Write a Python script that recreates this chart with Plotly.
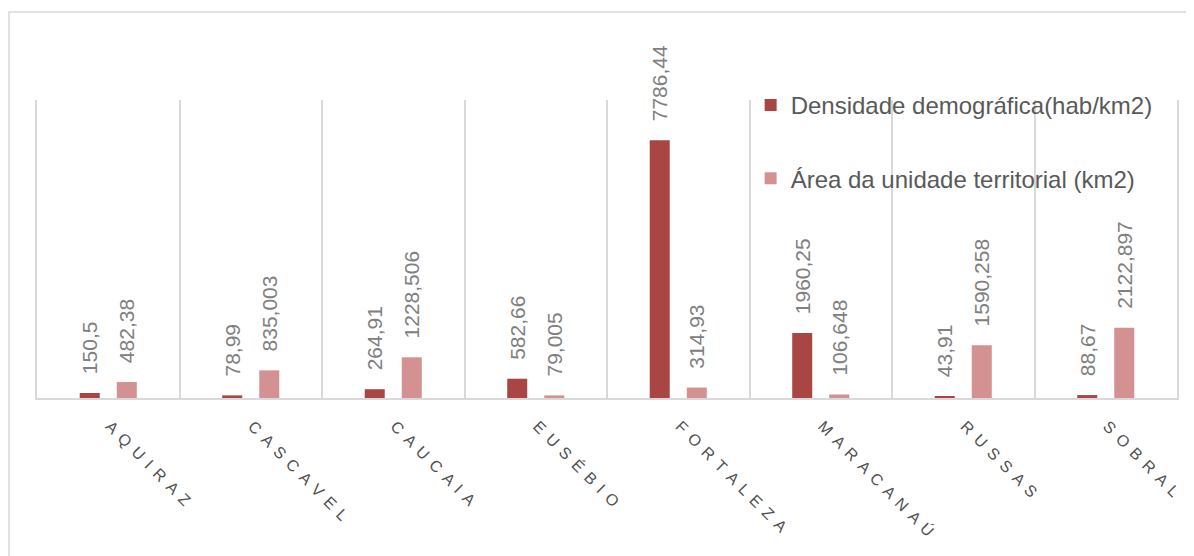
import plotly.graph_objects as go

categories = ["AQUIRAZ", "CASCAVEL", "CAUCAIA", "EUSÉBIO", "FORTALEZA", "MARACANAÚ", "RUSSAS", "SOBRAL"]
densidade = [150.5, 78.99, 264.91, 582.66, 7786.44, 1960.25, 43.91, 88.67]
area = [482.38, 835.003, 1228.506, 79.005, 314.93, 106.648, 1590.258, 2122.897]
series_names = ["Densidade demográfica(hab/km2)", "Área da unidade territorial (km2)"]
colors = ["#A94543", "#D39191"]

def fmt(v):
    # leading spaces give the gap above the bar (text reads bottom-to-top)
    return "\u00a0\u00a0\u2009" + str(v).replace(".", ",")

def spaced(s):
    # emulate the wide letter spacing of the category labels
    return " \u2006".join(list(s))

W, H = 1186, 548
L, R, T, B = 29, 17, 92, 158
pw, ph = W - L - R, H - T - B

fig = go.Figure()
for i, (name, vals) in enumerate(zip(series_names, [densidade, area])):
    fig.add_trace(go.Bar(
        x=categories, y=vals, name=name,
        marker=dict(color=colors[i], line=dict(width=0)),
        text=[fmt(v) for v in vals],
        textposition="outside", textangle=-90,
        textfont=dict(family="Liberation Sans", size=21, color="#808080"),
        constraintext="none", cliponaxis=False,
        legendgroup=f"g{i}", hoverinfo="skip",
    ))

fig.update_layout(
    width=W, height=H,
    margin=dict(l=L, r=R, t=T, b=B),
    paper_bgcolor="white", plot_bgcolor="white",
    barmode="group", bargap=0.48, bargroupgap=0.46,
    font=dict(family="Liberation Sans", color="#595959"),
    showlegend=True,
    legend=dict(
        x=0.626, y=(ph + 17) / ph, xanchor="left", yanchor="top",
        bgcolor="rgba(0,0,0,0)", borderwidth=0,
        font=dict(family="Liberation Sans", size=24, color="#595959"),
        tracegroupgap=39,
    ),
    xaxis=dict(
        tickmode="array", tickvals=categories, ticktext=[spaced(c) for c in categories],
        tickangle=45, tickson="boundaries", ticks="",
        showgrid=True, gridcolor="#d9d9d9", gridwidth=1.5,
        showline=True, linecolor="#d9d9d9", linewidth=1.5,
        tickfont=dict(family="Liberation Sans", size=16, color="#505050"),
        ticklabelshift=2, ticklabelstandoff=11,
        fixedrange=True,
    ),
    yaxis=dict(
        range=[0, 9000], showgrid=False, showticklabels=False, zeroline=False,
        showline=True, mirror=True, linecolor="#d9d9d9", linewidth=1.5,
        ticks="", fixedrange=True,
    ),
    shapes=[dict(
        type="rect", xref="paper", yref="paper",
        x0=(1 - L) / pw, x1=(W + 10 - L) / pw, y0=-0.7, y1=(ph + T - 4) / ph,
        line=dict(color="#d9d9d9", width=1.5), fillcolor="rgba(0,0,0,0)",
        layer="below",
    )],
)

fig.write_html("out.html")
